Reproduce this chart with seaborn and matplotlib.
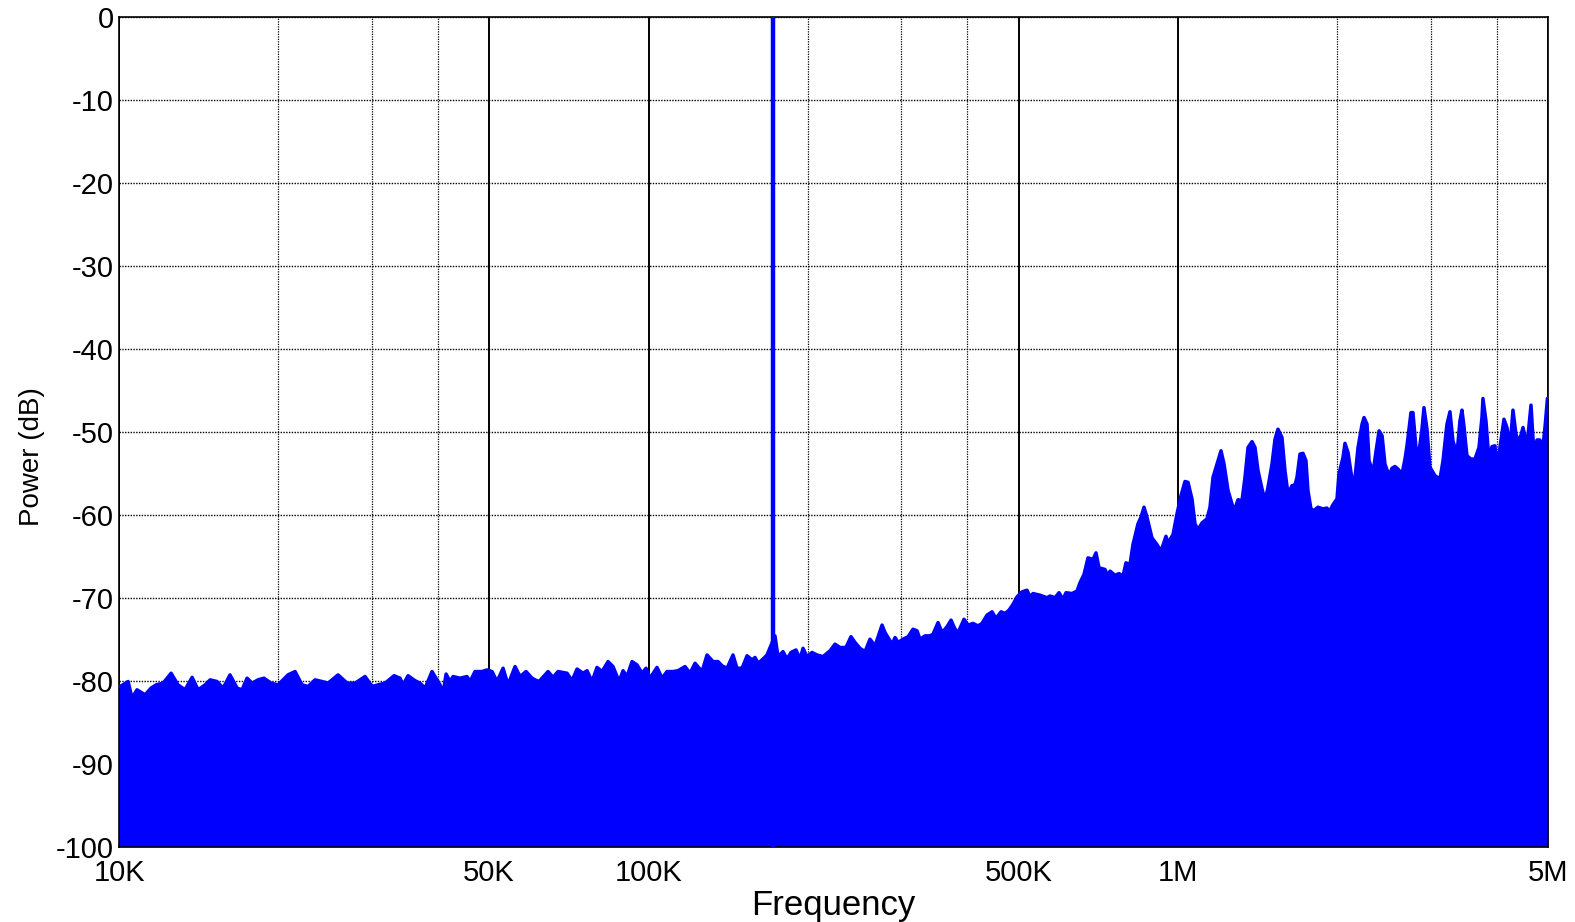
import numpy as np
import pandas as pd
import seaborn as sns
import matplotlib
matplotlib.use("Agg")
import matplotlib.pyplot as plt
from matplotlib.ticker import FixedLocator, FixedFormatter, NullFormatter

# upper envelope of the noise spectrum (kHz, dB)
freq_khz = [
    10.0, 10.04, 10.17, 10.40, 10.58, 10.81, 11.20, 11.49, 11.75, 12.11, 12.54,
    12.92, 13.32, 13.74, 14.10, 14.54, 14.86, 15.31, 15.72, 16.20, 16.71, 17.07,
    17.45, 17.83, 18.30, 18.78, 19.37, 19.97, 20.85, 21.50, 22.16, 22.75, 23.45,
    24.18, 24.82, 25.92, 26.96, 27.91, 29.15, 30.05, 30.84, 31.80, 33.07, 33.94,
    34.39, 35.14, 36.22, 37.03,
    37.84, 39.00, 40.38, 40.92, 41.46, 42.18, 42.74, 44.06, 45.41, 46.01, 47.02,
    48.48, 49.55, 50.63, 51.75, 53.12, 54.28, 55.96, 57.19, 58.70, 60.26, 61.04,
    62.12, 63.75, 64.60, 66.01, 67.47, 70.16, 71.70, 73.28, 75.21, 76.54, 78.22,
    79.93, 81.70, 83.85, 85.70, 87.97, 89.51, 91.08, 93.07, 95.13, 97.21, 98.92,
    100.65, 103.75, 106.05, 108.37, 111.25, 113.69, 117.20, 119.79, 122.42,
    126.19, 128.97, 132.37, 135.30, 137.65, 140.69,
    144.4, 146.9, 150.2, 153.5, 156.9, 158.9, 161.0, 164.5, 167.4, 173.3, 175.6,
    179.5, 182.6, 185.8, 189.9, 193.2, 195.8, 199.2, 203.6, 208.1, 213.6, 220.2,
    225.0, 230.0, 236.0, 241.2, 245.5, 250.8, 256.4, 262.0, 267.8, 276.1, 279.7,
    283.4, 288.4, 292.2, 296.0, 302.5, 309.2, 315.9, 321.5, 325.6, 332.8, 340.1,
    344.6, 352.2, 358.4, 366.3, 372.7, 379.3, 384.3, 394.3, 401.3, 410.1, 419.1,
    426.4, 435.8, 445.4, 453.2, 463.2, 471.4, 479.6, 488.0, 496.5, 507.5, 518.6,
    525.4, 532.3, 548.8, 565.7, 573.2, 585.7, 596.1, 606.5, 614.5, 630.7, 644.6,
    653.0, 664.5, 676.1, 691.0, 700.1, 709.3, 728.1, 737.7, 744.2, 760.4, 773.9,
    787.3, 797.6, 811.6, 822.2, 840.3, 851.4, 862.6, 873.8, 893.1, 912.7, 928.7,
    949.1, 957.4, 978.6, 995.6, 1013.2, 1030.9, 1044.5, 1062.7, 1076.7, 1090.9,
    1109.9, 1134.4, 1149.3, 1164.5, 1185.0, 1205.8, 1221.7, 1243.2, 1270.2,
    1281.3, 1298.2, 1321.0, 1338.2, 1356.0, 1379.9, 1397.9, 1416.4, 1441.3,
    1460.3, 1479.1, 1505.0, 1524.9, 1544.7, 1571.8, 1592.5, 1613.6,
    1641.7, 1663.4, 1677.8, 1699.8, 1722.3, 1744.7, 1759.9, 1783.0, 1806.2,
    1838.0, 1878.3, 1911.4, 1928.2, 1962.0, 1996.7, 2013.9, 2049.4, 2067.3,
    2094.7, 2131.4, 2159.5, 2187.9, 2226.4, 2245.9, 2275.5, 2295.4, 2335.9,
    2366.6, 2397.8, 2429.5, 2459.9, 2503.4, 2536.3, 2569.2, 2603.1, 2649.0,
    2683.5, 2707.1, 2754.3, 2778.4, 2815.1, 2851.5, 2889.2, 2914.6, 2953.0,
    2991.4, 3058.0, 3124.7, 3166.1, 3221.1, 3263.5, 3305.9, 3364.0, 3408.3,
    3438.4, 3467.8, 3513.6, 3575.3, 3638.2, 3702.4, 3750.5, 3766.9, 3816.6,
    3865.9, 3917.4, 3969.2, 4004.2, 4056.0, 4127.6, 4181.4, 4236.3, 4292.4,
    4348.2, 4405.5, 4483.5, 4562.0, 4642.4, 4702.9, 4764.6, 4826.7, 4868.9,
    4933.0, 4986.3, 5000.0,
]
power_db = [
    -80.7, -80.7, -80.5, -80.1, -82.1, -81.1, -81.7, -80.9, -80.5, -80.3, -79.1,
    -80.5, -81.1, -79.6, -81.1, -80.5, -79.9, -80.1, -80.9, -79.3, -80.9, -81.1,
    -79.7, -80.3, -79.9, -79.7, -80.3, -80.5, -79.3, -78.9, -80.5, -80.7, -79.9,
    -80.1, -80.3, -79.3, -80.3, -80.3, -79.5, -80.7, -80.5, -80.3, -79.4, -79.7,
    -80.5, -79.4, -80.0, -80.3,
    -80.9, -78.9, -80.5, -81.5, -79.2, -80.1, -79.5, -79.7, -79.5, -80.1, -78.9,
    -78.9, -78.7, -78.9, -80.1, -78.5, -80.5, -78.3, -79.5, -78.9, -79.7, -79.9,
    -80.1, -79.3, -78.9, -79.6, -78.9, -79.1, -80.0, -78.6, -79.1, -78.8, -80.1,
    -78.4, -78.9, -77.7, -78.3, -80.1, -78.8, -79.5, -77.7, -78.1, -79.1, -78.5,
    -79.7, -78.4, -79.7, -78.9, -78.9, -78.8, -78.3, -79.1, -77.9,
    -78.9, -76.9, -77.7, -77.7, -78.2, -78.5,
    -76.9, -78.5, -78.5, -77.0, -77.5, -77.2, -77.9, -77.4, -76.9, -74.6, -77.1,
    -76.5, -77.4, -76.6, -76.3, -77.4, -76.1, -77.1, -76.6, -76.9, -77.1, -76.4,
    -75.6, -76.0, -76.0, -74.7, -75.4, -76.1, -76.5, -75.0, -75.8, -73.3, -74.2,
    -74.8, -75.6, -74.8, -75.4, -75.0, -74.7, -73.8, -74.0, -75.0, -74.6, -74.6,
    -74.4, -73.0, -74.2, -73.5, -72.7, -73.8, -74.2, -72.6, -73.3, -73.1, -73.4,
    -73.1, -72.1, -71.7, -72.5, -71.7, -71.9, -71.5, -70.8, -69.9, -69.3, -69.1,
    -69.9, -69.5, -69.7, -70.0, -69.8, -70.0, -69.4, -70.2, -69.4, -69.5, -69.2,
    -68.2, -67.2, -65.2, -65.4, -64.6, -66.4, -66.6, -67.4, -66.8, -67.3, -67.1,
    -67.4, -65.8, -66.0, -63.6, -61.1, -60.3, -59.1, -60.3, -62.8, -63.6, -64.4,
    -62.6, -63.4, -62.4, -59.9, -57.7, -56.0, -56.1, -58.1, -61.1, -61.8,
    -61.0, -60.5, -59.1, -55.5, -53.9, -52.3, -53.9, -57.1, -59.1,
    -59.3, -58.2, -58.3, -55.5, -51.9, -51.2, -51.9, -54.7, -56.9,
    -58.3, -56.7, -53.9, -50.9, -49.7, -50.7, -54.7, -57.5,
    -56.5, -56.4, -55.5, -52.7, -52.6, -53.5, -57.1, -59.3, -59.5,
    -59.1, -59.3, -59.2, -59.7, -58.8, -58.1, -55.1, -53.1, -51.4,
    -52.5, -55.7, -55.5, -51.9, -49.1, -48.3, -49.1, -53.5, -54.9,
    -52.3, -49.9, -50.5, -53.9, -55.3, -54.4, -54.2, -54.5, -55.1,
    -53.3, -51.7, -47.7, -47.7, -51.9, -52.5, -49.7, -47.1, -49.7,
    -54.3, -55.3, -55.7, -53.5, -49.1, -47.6, -51.1, -52.7, -48.7,
    -47.4, -49.3, -52.9, -53.3, -53.3, -51.9, -48.3, -46.0, -48.7,
    -53.3, -51.8, -51.7, -54.1, -51.9, -48.5, -49.5, -51.9, -47.4,
    -50.3, -51.3, -49.5, -51.7, -46.8, -52.7, -51.0, -51.0, -52.9,
    -49.5, -46.0, -46.0,
]

# the test tone
tone_khz = 171.5
tone_db = 0.0
floor_db = -100

xtick_khz = [10, 50, 100, 500, 1000, 5000]
xtick_labels = ["10K", "50K", "100K", "500K", "1M", "5M"]
xminor_khz = [20, 30, 40, 200, 300, 400, 2000, 3000, 4000]
ytick_db = list(range(-100, 1, 10))

BLUE = "#0000ff"

sns.set_theme(style="white")
plt.rcParams["font.family"] = ["Liberation Sans", "DejaVu Sans"]

df = pd.DataFrame({"freq": np.array(freq_khz) * 1e3, "power": power_db})

fig = plt.figure(figsize=(15.75, 9.22), dpi=100)
ax = fig.add_axes([0.0756, 0.0817, 0.9073, 0.9002])
ax.set_xscale("log")

ax.fill_between(df["freq"], df["power"], floor_db, color=BLUE, lw=0, zorder=2)
sns.lineplot(data=df, x="freq", y="power", color=BLUE, lw=2.5,
             estimator=None, legend=False, ax=ax, zorder=3,
             solid_joinstyle="round", solid_capstyle="round")
ax.vlines(tone_khz * 1e3, floor_db, tone_db, color=BLUE, lw=3.2, zorder=3)

ax.set_xlim(xtick_khz[0] * 1e3, xtick_khz[-1] * 1e3)
ax.set_ylim(floor_db, 0)

ax.xaxis.set_major_locator(FixedLocator([f * 1e3 for f in xtick_khz]))
ax.xaxis.set_major_formatter(FixedFormatter(xtick_labels))
ax.xaxis.set_minor_locator(FixedLocator([f * 1e3 for f in xminor_khz]))
ax.xaxis.set_minor_formatter(NullFormatter())
ax.set_yticks(ytick_db)
ax.set_yticklabels([str(v) for v in ytick_db])

ax.set_axisbelow(True)
ax.grid(True, which="major", axis="x", color="black", lw=1.4, ls="-")
ax.grid(True, which="minor", axis="x", color="black", lw=0.9, ls=(0, (1, 1)))
ax.grid(True, which="major", axis="y", color="black", lw=1.0, ls=(0, (1, 1)))

ax.tick_params(axis="both", which="both", direction="in", colors="black",
               labelsize=21)
ax.tick_params(axis="x", which="major", pad=9)
ax.tick_params(axis="y", which="major", pad=4)
ax.tick_params(axis="both", which="major", length=6, width=1)
ax.tick_params(axis="x", which="minor", length=3, width=1)
for sp in ax.spines.values():
    sp.set_color("black")
    sp.set_linewidth(1.2)

ax.set_xlabel("Frequency", fontsize=25, color="black", labelpad=1)
ax.set_ylabel("Power (dB)", fontsize=20, color="black")
ax.yaxis.set_label_coords(-0.052, 0.47)

fig.savefig("out.png", dpi=100, facecolor="white")
